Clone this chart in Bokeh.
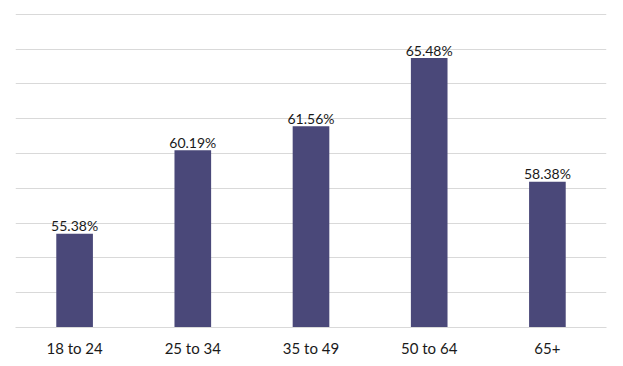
from bokeh.plotting import figure
from bokeh.models import ColumnDataSource, FixedTicker, Range1d
from bokeh.core.properties import value
from bokeh.embed import file_html
from bokeh.resources import INLINE

categories = ["18 to 24", "25 to 34", "35 to 49", "50 to 64", "65+"]
values = [55.38, 60.19, 61.56, 65.48, 58.38]
labels = ["55.38%", "60.19%", "61.56%", "65.48%", "58.38%"]
grid_ticks = [52, 54, 56, 58, 60, 62, 64, 66, 68]

FONT = "Lato"
src = ColumnDataSource(dict(cat=categories, val=values, lab=labels))

p = figure(x_range=categories, y_range=Range1d(50, 68.1),
           frame_width=591, frame_height=315,
           output_backend="svg", toolbar_location=None, y_axis_location=None,
           min_border_left=15, min_border_right=1, min_border_top=12, min_border_bottom=0)
p.outline_line_color = None
p.background_fill_color = "white"

p.vbar(x="cat", top="val", bottom=50, width=0.31, source=src,
       fill_color="#4a4879", line_color=None)
p.text(x="cat", y="val", text="lab", source=src, text_align="center",
       text_baseline="alphabetic", y_offset=-8, text_font=value(FONT),
       text_font_size="14px", text_color="#1a1a1a")

p.xgrid.grid_line_color = None
p.ygrid.ticker = FixedTicker(ticks=grid_ticks)
p.ygrid.grid_line_color = "#d9d9d9"
p.ygrid.grid_line_width = 1

p.xaxis.axis_line_color = "#d9d9d9"
p.xaxis.major_tick_line_color = None
p.xaxis.minor_tick_line_color = None
p.xaxis.major_label_standoff = 5
p.xaxis.major_label_text_font = FONT
p.xaxis.major_label_text_font_size = "15px"
p.xaxis.major_label_text_color = "#1a1a1a"

open("out.html", "w").write(file_html(p, INLINE))
